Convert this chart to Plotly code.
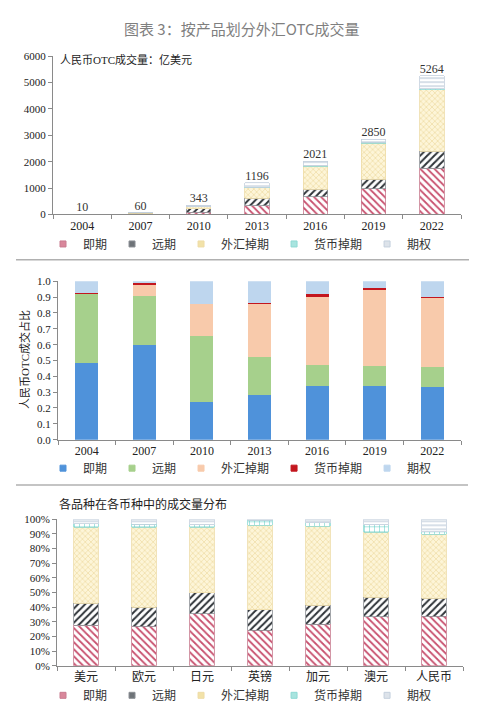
import plotly.graph_objects as go

# ---------------- data ----------------
years = ["2004", "2007", "2010", "2013", "2016", "2019", "2022"]
products = ["即期", "远期", "外汇掉期", "货币掉期", "期权"]
totals = [10, 60, 343, 1196, 2021, 2850, 5264]

# panel 1: turnover (亿美元)
vol_spot = [5, 36, 82, 337, 681, 975, 1760]
vol_fwd = [4, 19, 143, 285, 273, 353, 640]
vol_fxswap = [0, 4, 68, 399, 871, 1368, 2320]
vol_ccyswap = [0, 1, 1, 10, 28, 34, 40]
vol_option = [1, 0, 49, 165, 168, 120, 504]

# panel 2: shares
sh_spot = [0.487, 0.596, 0.238, 0.282, 0.337, 0.342, 0.333]
sh_fwd = [0.434, 0.311, 0.418, 0.238, 0.135, 0.124, 0.127]
sh_fxswap = [0.003, 0.068, 0.199, 0.335, 0.431, 0.480, 0.436]
sh_ccyswap = [0.005, 0.012, 0.002, 0.008, 0.014, 0.012, 0.006]
sh_option = [0.071, 0.013, 0.143, 0.137, 0.083, 0.042, 0.098]

# panel 3: distribution by currency (%)
currencies = ["美元", "欧元", "日元", "英镑", "加元", "澳元", "人民币"]
cur_spot = [27.6, 27.1, 35.4, 24.2, 28.3, 33.6, 33.9]
cur_fwd = [15.2, 12.8, 14.6, 14.1, 13.2, 13.3, 12.3]
cur_fxswap = [51.6, 54.5, 44.4, 57.7, 53.8, 44.1, 43.7]
cur_ccyswap = [2.7, 2.2, 2.0, 3.3, 2.2, 5.4, 1.6]
cur_option = [2.9, 3.4, 3.6, 0.7, 2.5, 3.6, 8.5]

# ---------------- styles ----------------
SERIF = "Times New Roman, Liberation Serif, Noto Sans CJK SC"
pat_styles = [
    dict(shape="\\", fg="#C8506E", bg="#FFFFFF", line="#C87C90", size=5, sol=0.35, leg="#D9879B"),
    dict(shape="/", fg="#2E3338", bg="#FFFFFF", line="#8C9095", size=5, sol=0.4, leg="#6E7378"),
    dict(shape="x", fg="#EED9A0", bg="#FDF5D8", line="#EEDCA8", size=4, sol=0.3, leg="#F2E2A8"),
    dict(shape="+", fg="#5CCBC4", bg="#FFFFFF", line="#8FD9D4", size=5, sol=0.2, leg="#A8E4DF"),
    dict(shape="-", fg="#AFC0D2", bg="#FFFFFF", line="#C4D0DD", size=4, sol=0.25, leg="#DDE3EA"),
]
solid_colors = ["#4F92DA", "#A6D08C", "#F8CAAB", "#C3161E", "#BED6EE"]

fig = go.Figure()

def legend_entry(name, fill, edge, xa, ya, lg):
    fig.add_trace(go.Scatter(
        x=[None], y=[None], mode="markers", name=name, xaxis=xa, yaxis=ya, legend=lg,
        marker=dict(symbol="square", size=6, color=fill, line=dict(color=edge, width=1)),
        showlegend=True, hoverinfo="skip",
    ))

# panel 1
vols = [vol_spot, vol_fwd, vol_fxswap, vol_ccyswap, vol_option]
for name, vals, st in zip(products, vols, pat_styles):
    fig.add_trace(go.Bar(
        x=years, y=vals, name=name, xaxis="x", yaxis="y", showlegend=False,
        width=0.42,
        marker=dict(color=st["bg"], line=dict(color=st["line"], width=0.8),
                    pattern=dict(shape=st["shape"], fgcolor=st["fg"], bgcolor=st["bg"],
                                 size=st["size"], solidity=st["sol"], fillmode="replace")),
    ))
    legend_entry(name, st["leg"], st["line"], "x", "y", "legend")
fig.add_trace(go.Scatter(
    x=years, y=totals, text=[str(t) for t in totals], mode="text",
    textposition="top center", textfont=dict(family=SERIF, size=12, color="#333333"),
    xaxis="x", yaxis="y", showlegend=False, cliponaxis=False,
))

# panel 2
shares = [sh_spot, sh_fwd, sh_fxswap, sh_ccyswap, sh_option]
for name, vals, col in zip(products, shares, solid_colors):
    fig.add_trace(go.Bar(
        x=years, y=vals, name=name, xaxis="x2", yaxis="y2", showlegend=False,
        width=0.4, marker=dict(color=col, line=dict(width=0)),
    ))
    legend_entry(name, col, col, "x2", "y2", "legend2")

# panel 3
curs = [cur_spot, cur_fwd, cur_fxswap, cur_ccyswap, cur_option]
for name, vals, st in zip(products, curs, pat_styles):
    fig.add_trace(go.Bar(
        x=currencies, y=vals, name=name, xaxis="x3", yaxis="y3", showlegend=False,
        width=0.42,
        marker=dict(color=st["bg"], line=dict(color=st["line"], width=0.8),
                    pattern=dict(shape=st["shape"], fgcolor=st["fg"], bgcolor=st["bg"],
                                 size=st["size"], solidity=st["sol"], fillmode="replace")),
    ))
    legend_entry(name, st["leg"], st["line"], "x3", "y3", "legend3")

axis_common = dict(showline=True, linecolor="#8A8A8A", linewidth=1, showgrid=False,
                   zeroline=False, ticks="outside", tickcolor="#8A8A8A", ticklen=4,
                   tickfont=dict(family=SERIF, size=12, color="#222222"))
xcat = dict(axis_common, type="category", tickson="boundaries")

def leg(y):
    return dict(orientation="h", x=43/484, y=y, xanchor="left", yanchor="middle",
                font=dict(family=SERIF, size=12, color="#333333"),
                bgcolor="rgba(0,0,0,0)", itemwidth=30,
                traceorder="normal", tracegroupgap=0)

fig.update_layout(
    width=484, height=720, margin=dict(l=0, r=0, t=0, b=0),
    paper_bgcolor="white", plot_bgcolor="white", barmode="stack", bargap=0.5,
    xaxis=dict(xcat, domain=[53/484, 461/484], anchor="y"),
    yaxis=dict(axis_common, domain=[1-212/720, 1-51/720], anchor="x",
               range=[0, 6000], dtick=1000, tickfont=dict(family=SERIF, size=11, color="#222")),
    xaxis2=dict(xcat, domain=[58/484, 461/484], anchor="y2"),
    yaxis2=dict(axis_common, domain=[1-441/720, 1-280/720], anchor="x2",
                range=[0, 1.0], dtick=0.1, tickformat=".1f",
                tickfont=dict(family=SERIF, size=11, color="#222")),
    xaxis3=dict(xcat, domain=[57/484, 463/484], anchor="y3"),
    yaxis3=dict(axis_common, domain=[1-671/720, 1-522/720], anchor="x3",
                range=[0, 100], dtick=10, ticksuffix="%",
                tickfont=dict(family=SERIF, size=11, color="#222")),
    legend=leg(1-242/720),
    legend2=leg(1-470/720),
    legend3=leg(1-701/720),
    showlegend=True,
    annotations=[
        dict(text="图表 3：按产品划分外汇OTC成交量", x=0.5, y=1-23/720, xref="paper", yref="paper",
             xanchor="center", yanchor="middle", showarrow=False,
             font=dict(family="Noto Sans CJK SC", size=15, color="#7F7F7F")),
        dict(text="人民币OTC成交量：亿美元", x=58/484, y=1-54/720, xref="paper", yref="paper",
             xanchor="left", yanchor="middle", showarrow=False,
             font=dict(family=SERIF, size=11, color="#222222")),
        dict(text="人民币OTC成交占比", x=24/484, y=1-360/720, xref="paper", yref="paper",
             xanchor="center", yanchor="middle",
             textangle=-90, showarrow=False, font=dict(family=SERIF, size=11, color="#222222")),
        dict(text="各品种在各币种中的成交量分布", x=143/484, y=1-507/720, xref="paper", yref="paper",
             xanchor="center", yanchor="middle",
             showarrow=False, font=dict(family=SERIF, size=12, color="#222222")),
    ],
    shapes=[
        dict(type="line", xref="paper", yref="paper", x0=16/484, x1=469/484,
             y0=1-258/720, y1=1-258/720, line=dict(color="#B0B0B0", width=1.5)),
        dict(type="line", xref="paper", yref="paper", x0=16/484, x1=468/484,
             y0=1-487/720, y1=1-487/720, line=dict(color="#B0B0B0", width=1.5)),
    ],
)

fig.write_html("out.html")
